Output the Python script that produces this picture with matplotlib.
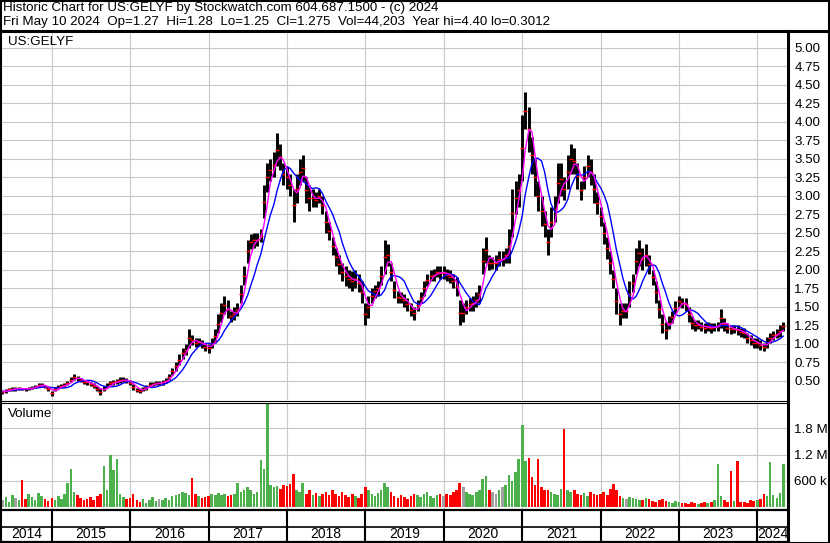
import matplotlib.pyplot as plt
import numpy as np
import pandas as pd
from matplotlib.lines import Line2D
from matplotlib.patches import Rectangle
from matplotlib.ticker import FormatStrFormatter

plt.rcParams["font.family"] = ["Liberation Sans", "DejaVu Sans"]

# semi-monthly bars (1st / 15th), low / high
lo14 = [0.33, 0.34, 0.36, 0.37, 0.37, 0.38, 0.38, 0.37, 0.38, 0.39, 0.40, 0.42, 0.43, 0.40, 0.36]
hi14 = [0.38, 0.39, 0.41, 0.42, 0.42, 0.42, 0.41, 0.41, 0.42, 0.43, 0.45, 0.47, 0.47, 0.45, 0.42]
lo15 = [0.30, 0.36, 0.40, 0.41, 0.42, 0.44, 0.48, 0.52, 0.50, 0.48, 0.46, 0.45,
        0.43, 0.40, 0.36, 0.31, 0.36, 0.40, 0.44, 0.45, 0.46, 0.47, 0.48, 0.47]
hi15 = [0.37, 0.42, 0.44, 0.46, 0.47, 0.50, 0.55, 0.60, 0.57, 0.54, 0.52, 0.51,
        0.49, 0.47, 0.43, 0.40, 0.43, 0.47, 0.50, 0.51, 0.53, 0.55, 0.56, 0.54]
lo16 = [0.44, 0.38, 0.35, 0.34, 0.36, 0.38, 0.42, 0.43, 0.44, 0.44, 0.45, 0.47,
        0.52, 0.58, 0.64, 0.72, 0.80, 0.85, 0.95, 0.98, 0.96, 0.97, 0.95, 0.90]
hi16 = [0.51, 0.46, 0.41, 0.40, 0.42, 0.45, 0.48, 0.49, 0.50, 0.50, 0.52, 0.54,
        0.60, 0.68, 0.76, 0.86, 0.95, 1.00, 1.20, 1.12, 1.08, 1.08, 1.05, 1.02]
lo17 = [0.88, 0.95, 1.02, 1.15, 1.30, 1.40, 1.35, 1.30, 1.32, 1.38, 1.55, 1.80,
        2.10, 2.28, 2.30, 2.32, 2.38, 2.70, 3.05, 3.20, 3.25, 3.40, 3.35, 3.15]
hi17 = [1.00, 1.08, 1.20, 1.40, 1.55, 1.65, 1.60, 1.45, 1.50, 1.55, 1.80, 2.05,
        2.40, 2.48, 2.50, 2.50, 2.55, 3.15, 3.45, 3.50, 3.60, 3.85, 3.70, 3.45]
lo18 = [3.10, 3.00, 2.65, 2.90, 3.15, 3.20, 2.90, 2.80, 2.85, 2.85, 2.90, 2.75,
        2.50, 2.40, 2.20, 2.05, 1.95, 1.85, 1.78, 1.75, 1.72, 1.75, 1.70, 1.55]
hi18 = [3.40, 3.30, 3.10, 3.30, 3.50, 3.55, 3.25, 3.15, 3.10, 3.05, 3.10, 3.00,
        2.80, 2.65, 2.45, 2.30, 2.20, 2.10, 2.05, 2.00, 1.98, 2.00, 1.95, 1.85]
lo19 = [1.25, 1.35, 1.55, 1.62, 1.65, 1.80, 1.95, 2.05, 1.85, 1.62, 1.55, 1.55,
        1.50, 1.45, 1.38, 1.33, 1.45, 1.55, 1.65, 1.78, 1.85, 1.85, 1.90, 1.88]
hi19 = [1.55, 1.65, 1.75, 1.80, 1.85, 2.05, 2.40, 2.35, 2.10, 1.85, 1.72, 1.70,
        1.68, 1.62, 1.55, 1.50, 1.60, 1.70, 1.85, 1.95, 2.00, 2.02, 2.05, 2.05]
lo20 = [1.88, 1.85, 1.82, 1.75, 1.65, 1.25, 1.30, 1.40, 1.45, 1.45, 1.50, 1.55,
        1.95, 2.10, 2.00, 2.02, 2.00, 2.05, 2.05, 2.10, 2.10, 2.45, 2.75, 2.85]
hi20 = [2.05, 2.02, 2.00, 1.95, 1.90, 1.60, 1.55, 1.60, 1.62, 1.65, 1.70, 1.80,
        2.30, 2.45, 2.20, 2.18, 2.20, 2.25, 2.25, 2.30, 2.55, 3.10, 3.20, 3.30]
lo21 = [3.20, 3.90, 3.60, 3.30, 3.00, 2.80, 2.60, 2.45, 2.20, 2.45, 2.65, 2.90,
        3.00, 2.95, 3.10, 3.30, 3.30, 3.10, 2.95, 3.10, 3.25, 3.15, 2.90, 2.75]
hi21 = [4.10, 4.40, 4.20, 3.80, 3.50, 3.20, 3.00, 2.80, 2.55, 2.85, 3.00, 3.45,
        3.45, 3.25, 3.55, 3.70, 3.65, 3.45, 3.20, 3.40, 3.55, 3.50, 3.30, 3.05]
lo22 = [2.60, 2.35, 2.15, 1.95, 1.75, 1.40, 1.25, 1.35, 1.35, 1.50, 1.70, 1.95,
        2.05, 2.00, 2.05, 1.95, 1.80, 1.55, 1.35, 1.15, 1.07, 1.20, 1.28, 1.40]
hi22 = [2.85, 2.65, 2.45, 2.25, 2.00, 1.75, 1.55, 1.55, 1.55, 1.85, 1.95, 2.30,
        2.40, 2.30, 2.35, 2.20, 2.00, 1.85, 1.60, 1.40, 1.30, 1.38, 1.45, 1.58]
lo23 = [1.50, 1.48, 1.45, 1.30, 1.20, 1.18, 1.20, 1.17, 1.15, 1.18, 1.15, 1.17,
        1.18, 1.22, 1.18, 1.15, 1.14, 1.15, 1.12, 1.10, 1.08, 1.02, 0.98, 0.94]
hi23 = [1.65, 1.62, 1.62, 1.50, 1.38, 1.32, 1.32, 1.30, 1.28, 1.30, 1.28, 1.28,
        1.30, 1.47, 1.35, 1.28, 1.26, 1.26, 1.25, 1.22, 1.22, 1.15, 1.12, 1.08]
lo24 = [0.95, 0.92, 0.90, 0.95, 1.02, 1.05, 1.08, 1.10, 1.18]
hi24 = [1.08, 1.05, 1.02, 1.10, 1.15, 1.18, 1.20, 1.25, 1.30]

# volume, thousands of shares
vol14 = [150, 230, 120, 280, 200, 150, 620, 180, 300, 220, 160, 310, 250, 180, 140]
vol15 = [200, 150, 250, 180, 300, 540, 860, 350, 280, 200, 150, 180,
         220, 160, 250, 300, 940, 400, 1190, 850, 1100, 300, 220, 180]
vol16 = [200, 300, 150, 120, 180, 100, 150, 220, 130, 180, 150, 200,
         170, 250, 280, 300, 350, 320, 280, 670, 300, 250, 200, 220]
vol17 = [250, 300, 280, 320, 280, 300, 250, 280, 300, 557, 350, 400,
         450, 380, 300, 350, 1080, 870, 2360, 500, 450, 480, 420, 500]
vol18 = [480, 520, 755, 400, 350, 550, 300, 380, 280, 320, 250, 300,
         350, 280, 400, 300, 250, 350, 280, 220, 300, 250, 200, 300]
vol19 = [450, 380, 300, 250, 320, 400, 560, 450, 350, 250, 200, 280,
         220, 180, 250, 300, 280, 220, 300, 350, 250, 200, 280, 300]
vol20 = [250, 300, 280, 350, 400, 550, 450, 350, 300, 280, 350, 400,
         650, 700, 400, 350, 300, 380, 450, 500, 730, 600, 800, 1100]
vol21 = [1880, 1050, 1120, 690, 500, 1100, 450, 400, 380, 350, 300, 280,
         420, 1790, 400, 350, 380, 300, 280, 320, 260, 350, 300, 280]
vol22 = [300, 350, 280, 420, 530, 380, 250, 200, 180, 220, 200, 180,
         160, 150, 200, 180, 140, 120, 150, 180, 140, 120, 100, 130]
vol23 = [120, 100, 90, 80, 110, 90, 80, 100, 120, 90, 110, 150,
         985, 250, 150, 120, 825, 130, 1050, 110, 120, 100, 160, 140]
vol24 = [150, 180, 300, 250, 1040, 280, 200, 320, 985]

years = list(range(2014, 2025))
year_labels = [str(y) for y in years]

lo = np.array(lo14 + lo15 + lo16 + lo17 + lo18 + lo19 + lo20 + lo21 + lo22 + lo23 + lo24)
hi = np.array(hi14 + hi15 + hi16 + hi17 + hi18 + hi19 + hi20 + hi21 + hi22 + hi23 + hi24)
vol = np.array(vol14 + vol15 + vol16 + vol17 + vol18 + vol19 + vol20 + vol21 + vol22 + vol23 + vol24)
dates = pd.date_range("2014-05-15", "2024-05-10", freq="SMS")

mid = pd.Series((lo + hi) / 2)
ma_fast = mid.rolling(3, min_periods=1).mean()
ma_slow = mid.rolling(7, min_periods=1).mean()
chg = mid.diff().fillna(0).to_numpy()
vcol = np.where(chg > 0, "#4CB04C", np.where(chg < 0, "#FF0000", "#A0A0A0"))

W, H = 830, 543
fig = plt.figure(figsize=(W / 100, H / 100), dpi=100)


def box(x0, y0, x1, y1):
    return [x0 / W, 1 - y1 / H, (x1 - x0) / W, (y1 - y0) / H]


def fline(x0, y0, x1, y1, lw):
    fig.add_artist(Line2D([x0 / W, x1 / W], [1 - y0 / H, 1 - y1 / H],
                          transform=fig.transFigure, color="black", lw=lw))


xmin, xmax = pd.Timestamp("2014-05-14"), pd.Timestamp("2024-05-23")
year_starts = pd.to_datetime([f"{y}-01-01" for y in years[1:]])
GRID = "#C8C8C8"
FS = 9.6

ax_p = fig.add_axes(box(2, 32, 788, 400))
ax_v = fig.add_axes(box(2, 403, 788, 509))
ax_y = fig.add_axes(box(2, 509, 788, 541))

# price panel
ax_p.vlines(dates, lo, hi, color="black", lw=2.1, zorder=2)
ax_p.plot(dates, mid, ls="none", marker="_", ms=2.5, mew=1.0, color="red", zorder=3)
ax_p.plot(dates, ma_slow, color="#0000FF", lw=1.0, zorder=4)
ax_p.plot(dates, ma_fast, color="#FF00FF", lw=1.0, zorder=5)
ax_p.set_ylim(0.243, 5.216)
ax_p.set_yticks(np.arange(0.5, 5.01, 0.25))
ax_p.yaxis.set_major_formatter(FormatStrFormatter("%.2f"))
ax_p.text(6 / 786, 1 - 10 / 368, "US:GELYF", transform=ax_p.transAxes,
          fontsize=FS, va="center", ha="left")

# volume panel
ax_v.bar(dates, vol, width=12, color=vcol, zorder=2)
ax_v.set_ylim(-45, 2380)
ax_v.set_yticks([600, 1200, 1800])
ax_v.set_yticklabels(["600 k", "1.2 M", "1.8 M"])
ax_v.text(6 / 786, 1 - 11 / 106, "Volume", transform=ax_v.transAxes,
          fontsize=FS, va="center", ha="left")

for ax in (ax_p, ax_v):
    ax.set_xlim(xmin, xmax)
    ax.set_xticks(year_starts)
    ax.tick_params(axis="x", length=0, labelbottom=False)
    ax.yaxis.tick_right()
    ax.tick_params(axis="y", length=0, pad=4.5, labelsize=FS)
    ax.grid(True, color=GRID, lw=0.8)
    ax.set_axisbelow(True)
    for s in ax.spines.values():
        s.set_visible(False)

# year band
ax_y.set_xlim(xmin, xmax)
ax_y.set_ylim(0, 1)
ax_y.axis("off")
ax_y.vlines(year_starts, 0, 1, color="black", lw=1.5)
ax_y.axhline(14.5 / 32, color="black", lw=1.2)
for y, lab in zip(years, year_labels):
    a = max(pd.Timestamp(f"{y}-01-01"), xmin)
    b = min(pd.Timestamp(f"{y + 1}-01-01"), xmax)
    ax_y.text(a + (b - a) / 2, 7 / 32, lab, fontsize=FS + 0.4, ha="center", va="center")

# header
fig.text(3 / W, 1 - 8.5 / H, "Historic Chart for US:GELYF by Stockwatch.com 604.687.1500 - (c) 2024",
         fontsize=FS, va="center", ha="left")
fig.text(3 / W, 1 - 21.5 / H,
         "Fri May 10 2024  Op=1.27  Hi=1.28  Lo=1.25  Cl=1.275  Vol=44,203  Year hi=4.40 lo=0.3012",
         fontsize=FS, va="center", ha="left")

# frame
fig.add_artist(Rectangle((0.5 / W, 0.5 / H), (W - 1.5) / W, (H - 1.5) / H, transform=fig.transFigure,
                         fill=False, edgecolor="black", lw=1.5))
fline(0, 31, W, 31, 2.2)
fline(788, 31, 788, H, 2.2)
fline(0, 400.5, 788, 400.5, 0.8)
fline(0, 402.5, 788, 402.5, 0.8)
fline(0, 509.5, 788, 509.5, 1.6)
fline(0, 541.5, 788, 541.5, 1.6)

fig.savefig("out.png", dpi=100)
